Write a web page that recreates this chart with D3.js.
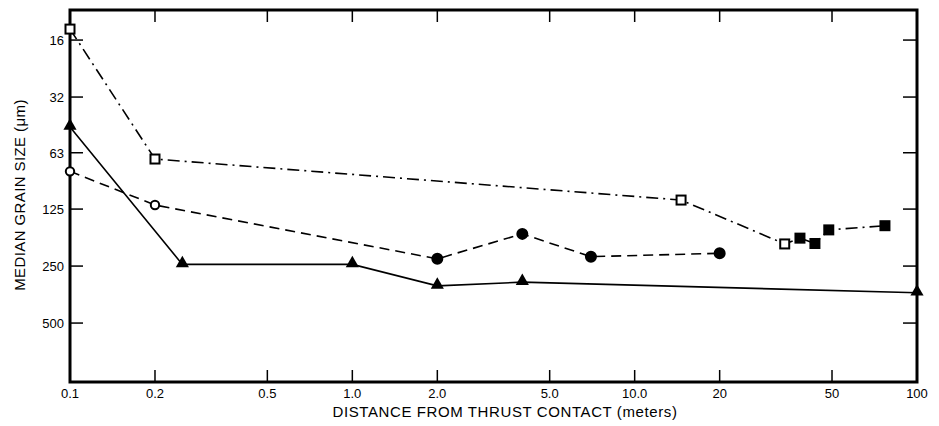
<!DOCTYPE html>
<html>
<head>
<meta charset="utf-8">
<script src="https://cdn.jsdelivr.net/npm/d3@7"></script>
<style>
  body { margin: 0; background: #fff; }
  svg { display: block; font-family: "Liberation Sans", Arial, sans-serif; }
</style>
</head>
<body>
<svg id="chart" width="939" height="426"></svg>
<script>
// tick labels
const xTicks = [0.1, 0.2, 0.5, 1.0, 2.0, 5.0, 10.0, 20, 50, 100];
const xTickLabels = ["0.1", "0.2", "0.5", "1.0", "2.0", "5.0", "10.0", "20", "50", "100"];
const yTicks = [16, 32, 63, 125, 250, 500];

// solid line, filled triangles
const triX = [0.1, 0.25, 1.0, 2.0, 4.0, 100];
const triY = [46, 245, 245, 318, 304, 346];

// dashed line, circles (open first two)
const circX = [0.1, 0.2, 2.0, 4.0, 7.0, 20];
const circY = [79, 119, 229, 169, 223, 214];
const circOpen = [true, true, false, false, false, false];

// dash-dot line, squares (open first four)
const sqX = [0.1, 0.2, 14.6, 34, 38.5, 43.5, 48.7, 77];
const sqY = [14, 68, 112, 191, 178, 190, 161, 153];
const sqOpen = [true, true, true, true, false, false, false, false];

(function () {
  const svg = d3.select("#chart");
  const left = 70, right = 917, top = 10, bottom = 382;

  var x = d3.scaleLog().domain([0.1, 100]).range([left, right]);
  // y reversed: small grain size at top
  var y = d3.scaleLog().domain([11.1, 1024]).range([top, bottom]);

  const zip = (xs, ys) => xs.map((v, i) => ({ x: v, y: ys[i], i: i }));
  const tri = zip(triX, triY);
  const circ = zip(circX, circY);
  const sq = zip(sqX, sqY);

  const line = d3.line().x((d) => x(d.x)).y((d) => y(d.y));

  svg.append("path").datum(tri).attr("d", line)
    .attr("fill", "none").attr("stroke", "#000").attr("stroke-width", 1.6);
  svg.append("path").datum(circ).attr("d", line)
    .attr("fill", "none").attr("stroke", "#000").attr("stroke-width", 1.6)
    .attr("stroke-dasharray", "10,6");
  svg.append("path").datum(sq).attr("d", line)
    .attr("fill", "none").attr("stroke", "#000").attr("stroke-width", 1.6)
    .attr("stroke-dasharray", "12,5,2,5");

  // frame
  svg.append("rect")
    .attr("x", left).attr("y", top)
    .attr("width", right - left).attr("height", bottom - top)
    .attr("fill", "none").attr("stroke", "#000").attr("stroke-width", 3);

  // x ticks, inward at bottom and top
  const xg = svg.append("g");
  xTicks.slice(1, -1).forEach((t) => {
    xg.append("line").attr("x1", x(t)).attr("x2", x(t))
      .attr("y1", bottom).attr("y2", bottom - 12)
      .attr("stroke", "#000").attr("stroke-width", 1.5);
    xg.append("line").attr("x1", x(t)).attr("x2", x(t))
      .attr("y1", top).attr("y2", top + 12)
      .attr("stroke", "#000").attr("stroke-width", 1.5);
  });
  xTicks.forEach((t, i) => {
    xg.append("text").attr("x", x(t)).attr("y", 398)
      .attr("text-anchor", "middle").attr("font-size", 13)
      .text(xTickLabels[i]);
  });

  // y ticks, inward at left and right
  const yg = svg.append("g");
  yTicks.forEach((t) => {
    yg.append("line").attr("x1", left).attr("x2", left + 13)
      .attr("y1", y(t)).attr("y2", y(t))
      .attr("stroke", "#000").attr("stroke-width", 1.5);
    yg.append("line").attr("x1", right - 14).attr("x2", right)
      .attr("y1", y(t)).attr("y2", y(t))
      .attr("stroke", "#000").attr("stroke-width", 1.5);
    yg.append("text").attr("x", 64).attr("y", y(t) + 5)
      .attr("text-anchor", "end").attr("font-size", 13)
      .text(t);
  });

  // markers
  svg.append("g").selectAll("path").data(tri).join("path")
    .attr("d", d3.symbol().type(d3.symbolTriangle).size(75))
    .attr("transform", (d) => "translate(" + x(d.x) + "," + (y(d.y) - 1) + ")")
    .attr("fill", "#000");

  svg.append("g").selectAll("circle").data(circ).join("circle")
    .attr("cx", (d) => x(d.x)).attr("cy", (d) => y(d.y))
    .attr("r", (d) => (circOpen[d.i] ? 4.2 : 5))
    .attr("fill", (d) => (circOpen[d.i] ? "#fff" : "#000"))
    .attr("stroke", "#000").attr("stroke-width", 2);

  svg.append("g").selectAll("rect").data(sq).join("rect")
    .attr("x", (d) => x(d.x) - 4.5).attr("y", (d) => y(d.y) - 4.5)
    .attr("width", 9).attr("height", 9)
    .attr("fill", (d) => (sqOpen[d.i] ? "#fff" : "#000"))
    .attr("stroke", "#000").attr("stroke-width", 2);

  // axis titles
  svg.append("text").attr("x", 505).attr("y", 417)
    .attr("text-anchor", "middle").attr("font-size", 15)
    .attr("letter-spacing", 0.6)
    .text("DISTANCE FROM THRUST CONTACT (meters)");
  svg.append("text")
    .attr("transform", "translate(25,195) rotate(-90)")
    .attr("text-anchor", "middle").attr("font-size", 15)
    .attr("letter-spacing", 0.4)
    .text("MEDIAN GRAIN SIZE (\u03bcm)");
})();
</script>
</body>
</html>
